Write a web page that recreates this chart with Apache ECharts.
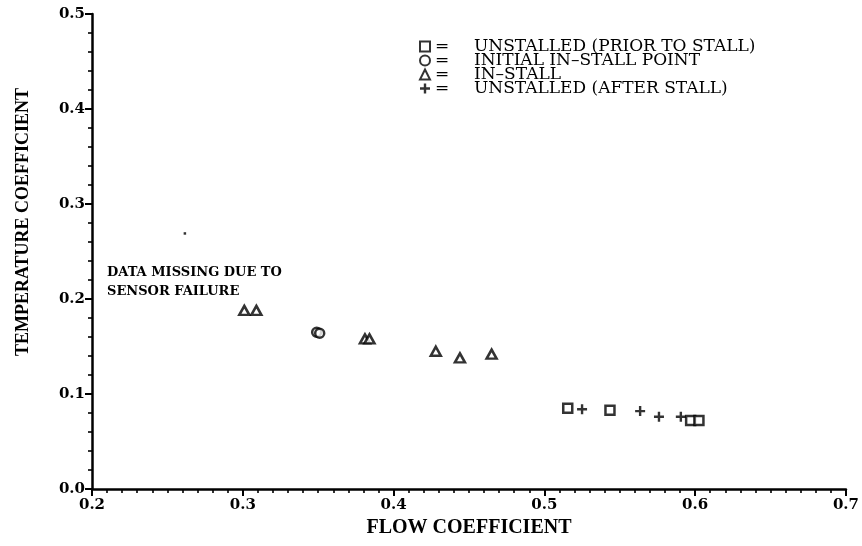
<!DOCTYPE html>
<html>
<head>
<meta charset="utf-8">
<script src="https://cdn.jsdelivr.net/npm/echarts@6/dist/echarts.min.js"></script>
<style>
  html, body { margin: 0; padding: 0; background: #fff; }
  #chart { width: 862px; height: 546px; }
</style>
</head>
<body>
<div id="chart"></div>
<script>
// Flow coefficient (x) vs temperature coefficient (y), grouped by stall state
const unstalledPriorX = [0.5155, 0.5435, 0.5970, 0.6025];
const unstalledPriorY = [0.0850, 0.0830, 0.0720, 0.0720];

const initialStallX = [0.3490, 0.3510];
const initialStallY = [0.1650, 0.1640];

const inStallX = [0.3010, 0.3090, 0.3810, 0.3840, 0.4280, 0.4440, 0.4650];
const inStallY = [0.1880, 0.1880, 0.1580, 0.1580, 0.1450, 0.1380, 0.1420];

const unstalledAfterX = [0.5250, 0.5635, 0.5760, 0.5905];
const unstalledAfterY = [0.0840, 0.0820, 0.0760, 0.0760];

// isolated stray point
const strayX = [0.2616];
const strayY = [0.2690];

const seriesNames = [
  'UNSTALLED (PRIOR TO STALL)',
  'INITIAL IN\u2013STALL POINT',
  'IN\u2013STALL',
  'UNSTALLED (AFTER STALL)'
];

const xTicks = { min: 0.2, max: 0.7, step: 0.1 };
const yTicks = { min: 0.0, max: 0.5, step: 0.1 };

const annotationLines = ['DATA MISSING DUE TO', 'SENSOR FAILURE'];
const xTitle = 'FLOW COEFFICIENT';
const yTitle = 'TEMPERATURE COEFFICIENT';

const pairs = (xs, ys) => xs.map((x, i) => [x, ys[i]]);

const plusPath = 'path://M3.8,0H6.2V3.8H10V6.2H6.2V10H3.8V6.2H0V3.8H3.8Z';

const hollow = { color: '#fff', borderColor: '#000', borderWidth: 2.5 };

const chart = echarts.init(document.getElementById('chart'), null, { renderer: 'canvas' });

const axisFont = { fontFamily: 'DejaVu Serif', fontWeight: 'bold', fontSize: 15, color: '#000' };
const legendFont = { fontFamily: 'DejaVu Serif', fontSize: 17, lineHeight: 15, color: '#000' };

chart.setOption({
  backgroundColor: '#fff',
  animation: false,
  grid: { left: 92, right: 16, top: 14, bottom: 57, containLabel: false },
  xAxis: {
    type: 'value',
    min: xTicks.min, max: xTicks.max, interval: xTicks.step,
    axisLine: { lineStyle: { color: '#000', width: 2.5 } },
    axisTick: { length: 7, lineStyle: { color: '#000', width: 2 } },
    minorTick: { show: true, splitNumber: 10, length: 4, lineStyle: { color: '#000', width: 1.6 } },
    splitLine: { show: false },
    axisLabel: Object.assign({ margin: 9, formatter: v => v.toFixed(1) }, axisFont)
  },
  yAxis: {
    type: 'value',
    min: yTicks.min, max: yTicks.max, interval: yTicks.step,
    axisLine: { lineStyle: { color: '#000', width: 2.5 } },
    axisTick: { length: 7, lineStyle: { color: '#000', width: 2 } },
    minorTick: { show: true, splitNumber: 5, length: 4, lineStyle: { color: '#000', width: 1.6 } },
    splitLine: { show: false },
    axisLabel: Object.assign({ margin: 7, formatter: v => v.toFixed(1) }, axisFont)
  },
  legend: {
    data: seriesNames,
    orient: 'vertical',
    left: 419,
    top: 38,
    padding: 0,
    itemWidth: 10,
    itemHeight: 10,
    itemGap: -3,
    selectedMode: false,
    formatter: name => '{eq|=}{t|' + name + '}',
    textStyle: Object.assign({}, legendFont, {
      rich: {
        eq: Object.assign({ width: 39 }, legendFont),
        t: Object.assign({}, legendFont)
      }
    })
  },
  graphic: [
    {
      type: 'text', left: 107, top: 263, silent: true,
      style: {
        text: annotationLines.join('\n'),
        font: 'bold 13px "DejaVu Serif"',
        lineHeight: 19,
        fill: '#000'
      }
    },
    {
      type: 'text', x: 23, y: 222, rotation: Math.PI / 2, silent: true,
      style: {
        text: yTitle,
        font: 'bold 18px "Liberation Serif"',
        fill: '#000',
        align: 'center',
        verticalAlign: 'middle'
      }
    },
    {
      type: 'text', x: 469, y: 528, silent: true,
      style: {
        text: xTitle,
        font: 'bold 20px "Liberation Serif"',
        fill: '#000',
        align: 'center',
        verticalAlign: 'middle'
      }
    }
  ],
  series: [
    {
      name: seriesNames[0], type: 'scatter', symbol: 'rect', symbolSize: 9,
      itemStyle: hollow, data: pairs(unstalledPriorX, unstalledPriorY)
    },
    {
      name: seriesNames[1], type: 'scatter', symbol: 'circle', symbolSize: 9,
      itemStyle: hollow, data: pairs(initialStallX, initialStallY)
    },
    {
      name: seriesNames[2], type: 'scatter', symbol: 'triangle', symbolSize: [10, 9],
      itemStyle: hollow, data: pairs(inStallX, inStallY)
    },
    {
      name: seriesNames[3], type: 'scatter', symbol: plusPath, symbolSize: 10,
      itemStyle: { color: '#000' }, data: pairs(unstalledAfterX, unstalledAfterY)
    },
    {
      name: 'stray', type: 'scatter', symbol: 'rect', symbolSize: 2.5, silent: true,
      itemStyle: { color: '#000' }, data: pairs(strayX, strayY)
    }
  ]
});
</script>
</body>
</html>
